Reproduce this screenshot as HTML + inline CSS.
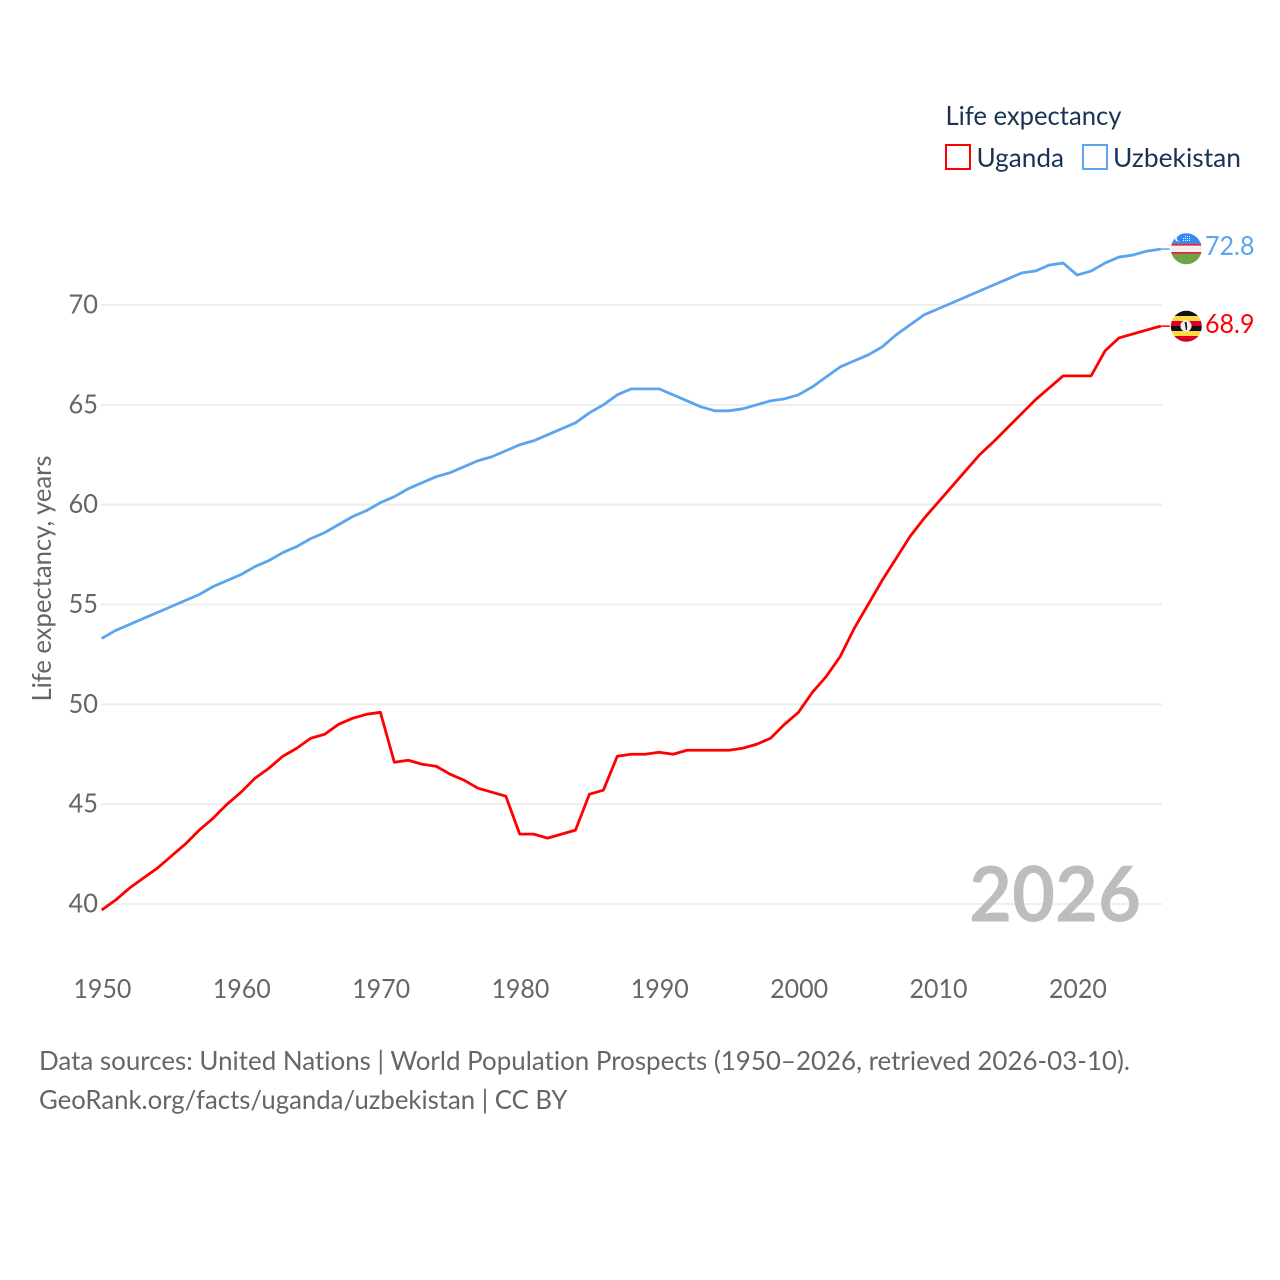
<!DOCTYPE html>
<html lang="en">
<head>
<meta charset="utf-8">
<title>Life expectancy: Uganda and Uzbekistan</title>
<style>
html,body{margin:0;padding:0;background:#fff;}
svg{display:block;}
text{font-family:"Lato","Carlito","Liberation Sans",sans-serif;font-variant-ligatures:none;}
</style>
</head>
<body>
<svg id="chart" xmlns="http://www.w3.org/2000/svg" width="1280" height="1280" viewBox="0 0 1280 1280">
  <defs>
    <clipPath id="clip-uz"><circle cx="1186.3" cy="248.8" r="15.5"/></clipPath>
    <clipPath id="clip-ug"><circle cx="1186.3" cy="326.3" r="15.5"/></clipPath>
  </defs>
  <rect width="1280" height="1280" fill="#fff"/>
  <g id="grid"></g>
  <g id="yticks"></g>
  <g id="xticks"></g>
  <text transform="translate(51,578.5) rotate(-90)" text-anchor="middle" font-size="26" fill="#666" textLength="246" lengthAdjust="spacingAndGlyphs">Life expectancy, years</text>
  <text x="1141" y="921.5" text-anchor="end" font-size="77" font-weight="700" fill="#bdbdbd" textLength="172" lengthAdjust="spacingAndGlyphs">2026</text>
  <g id="series"></g>

  <g>
    <text x="945.5" y="125" font-size="26.5" fill="#1a3355" textLength="176" lengthAdjust="spacingAndGlyphs">Life expectancy</text>
    <g>
      <rect x="946" y="145" width="24" height="24" fill="#fff" stroke="#ff0000" stroke-width="2"/>
      <text x="976.5" y="167" font-size="26.5" fill="#1a3355" textLength="87.5" lengthAdjust="spacingAndGlyphs">Uganda</text>
    </g>
    <g>
      <rect x="1083" y="145" width="24" height="24" fill="#fff" stroke="#5ba4ee" stroke-width="2"/>
      <text x="1113" y="167" font-size="26.5" fill="#1a3355" textLength="128" lengthAdjust="spacingAndGlyphs">Uzbekistan</text>
    </g>
  </g>

  <g clip-path="url(#clip-uz)">
    <rect x="1170" y="232" width="33" height="34" fill="#f0f0f0"/>
    <rect x="1170" y="232" width="33" height="11.7" fill="#338af3"/>
    <rect x="1170" y="243.7" width="33" height="1.9" fill="#e0213f"/>
    <rect x="1170" y="252" width="33" height="1.9" fill="#e0213f"/>
    <rect x="1170" y="253.9" width="33" height="12" fill="#6da544"/>
    <circle cx="1178" cy="238.5" r="3" fill="#fff"/>
    <circle cx="1179.4" cy="238.5" r="2.7" fill="#338af3"/>
    <g stroke="#ffffff" stroke-width="1" stroke-dasharray="1 1">
      <line x1="1185" x2="1191" y1="236.5" y2="236.5"/>
      <line x1="1183" x2="1191" y1="238.5" y2="238.5"/>
      <line x1="1183" x2="1191" y1="240.5" y2="240.5"/>
    </g>
  </g>
  <g clip-path="url(#clip-ug)">
    <rect x="1170" y="310" width="33" height="6" fill="#111"/>
    <rect x="1170" y="316" width="33" height="5" fill="#ffda44"/>
    <rect x="1170" y="321" width="33" height="5" fill="#d80027"/>
    <rect x="1170" y="326" width="33" height="5" fill="#111"/>
    <rect x="1170" y="331" width="33" height="5" fill="#ffda44"/>
    <rect x="1170" y="336" width="33" height="7" fill="#d80027"/>
    <circle cx="1186" cy="326" r="5.6" fill="#f0f0f0"/>
    <path d="M1184.6 322 L1186.6 322 L1187.2 326.5 L1187 330 L1185.8 330 L1185.4 327 Z" fill="#222"/>
  </g>

  <text id="label-uz" x="1205" y="255" font-size="26.5" fill="#5ba4ee" textLength="49.5" lengthAdjust="spacingAndGlyphs"></text>
  <text id="label-ug" x="1205" y="333" font-size="26.5" fill="#ff0000" textLength="49.5" lengthAdjust="spacingAndGlyphs"></text>

  <text x="39" y="1070" font-size="26.5" fill="#666" textLength="1091" lengthAdjust="spacingAndGlyphs">Data sources: United Nations | World Population Prospects (1950–2026, retrieved 2026-03-10).</text>
  <text x="39" y="1109" font-size="26.5" fill="#666" textLength="528.5" lengthAdjust="spacingAndGlyphs">GeoRank.org/facts/uganda/uzbekistan | CC BY</text>
</svg>
<script>
const startYear = 1950;
const xTickLabels = [1950, 1960, 1970, 1980, 1990, 2000, 2010, 2020];
const yTickLabels = [40, 45, 50, 55, 60, 65, 70];
const uganda = [39.7,40.2,40.8,41.3,41.8,42.4,43.0,43.7,44.3,45.0,45.6,46.3,46.8,47.4,47.8,48.3,48.5,49.0,49.3,49.5,49.6,47.1,47.2,47.0,46.9,46.5,46.2,45.8,45.6,45.4,43.5,43.5,43.3,43.5,43.7,45.5,45.7,47.4,47.5,47.5,47.6,47.5,47.7,47.7,47.7,47.7,47.8,48.0,48.3,49.0,49.6,50.6,51.4,52.4,53.8,55.0,56.2,57.3,58.4,59.3,60.1,60.9,61.7,62.5,63.15,63.85,64.55,65.25,65.85,66.45,66.45,66.45,67.7,68.35,68.55,68.75,68.94];
const uzbekistan = [53.3,53.7,54.0,54.3,54.6,54.9,55.2,55.5,55.9,56.2,56.5,56.9,57.2,57.6,57.9,58.3,58.6,59.0,59.4,59.7,60.1,60.4,60.8,61.1,61.4,61.6,61.9,62.2,62.4,62.7,63.0,63.2,63.5,63.8,64.1,64.6,65.0,65.5,65.8,65.8,65.8,65.5,65.2,64.9,64.7,64.7,64.8,65.0,65.2,65.3,65.5,65.9,66.4,66.9,67.2,67.5,67.9,68.5,69.0,69.5,69.8,70.1,70.4,70.7,71.0,71.3,71.6,71.7,72.0,72.1,71.5,71.7,72.1,72.4,72.5,72.7,72.8];

const NS = 'http://www.w3.org/2000/svg';
function xScale(year) { return 101.7 + (year - 1950) * 13.935; }
function yScale(v) { return 904 - (v - 40) * 19.967; }
function make(tag, attrs, parent) {
  const el = document.createElementNS(NS, tag);
  Object.keys(attrs).forEach(function (k) { el.setAttribute(k, attrs[k]); });
  parent.appendChild(el);
  return el;
}

const gridG = document.getElementById('grid');
const yG = document.getElementById('yticks');
yTickLabels.forEach(function (v) {
  const line = make('line', { x1: 101, x2: 1162, y1: yScale(v), y2: yScale(v), stroke: '#eeeeee', 'stroke-width': 2 }, gridG);
  
  
  const t = make('text', { x: 98, y: yScale(v) + 8.5, 'text-anchor': 'end', 'font-size': 26, fill: '#666', textLength: 29.5, lengthAdjust: 'spacingAndGlyphs' }, yG);
  
  
  t.textContent = v;
});

const xG = document.getElementById('xticks');
xTickLabels.forEach(function (yr) {
  const t = make('text', { x: xScale(yr) + 0.7, y: 998, 'text-anchor': 'middle', 'font-size': 26, fill: '#666', textLength: 58, lengthAdjust: 'spacingAndGlyphs' }, xG);
  
  
  t.textContent = yr;
});

function drawSeries(values, color, name) {
  const seriesG = document.getElementById('series');
  const d = values.map(function (v, i) {
    return (i ? 'L' : 'M') + xScale(startYear + i).toFixed(2) + ' ' + yScale(v).toFixed(2);
  }).join(' ');
  const p = make('path', { d: d, fill: 'none', stroke: color, 'stroke-width': 2.8, 'stroke-linejoin': 'round' }, seriesG);
  
  
  const lastY = yScale(values[values.length - 1]);
  const lastX = xScale(startYear + values.length - 1);
  const c = make('line', { x1: lastX, x2: lastX + 9, y1: lastY, y2: lastY, stroke: color, 'stroke-width': 1.5 }, seriesG);
  
  
}
drawSeries(uzbekistan, '#5ba4ee', 'line-uzbekistan');
drawSeries(uganda, '#ff0000', 'line-uganda');

document.getElementById('label-uz').textContent = uzbekistan[uzbekistan.length - 1].toFixed(1);
document.getElementById('label-ug').textContent = uganda[uganda.length - 1].toFixed(1);
</script>
</body>
</html>
